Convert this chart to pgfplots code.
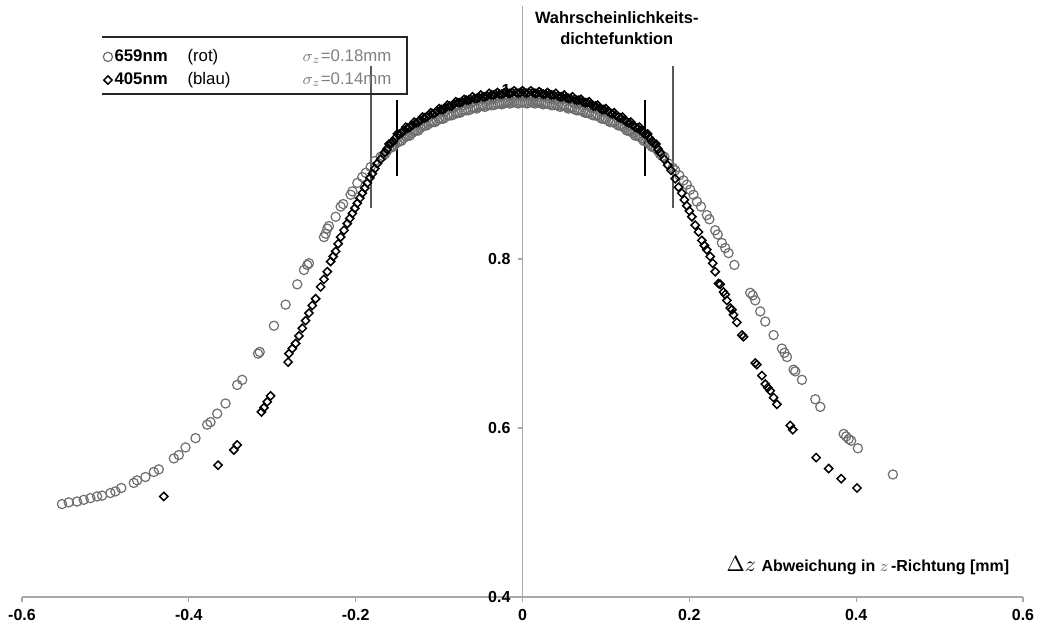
\documentclass[border=0pt]{standalone}
\usepackage{pgfplots}
\pgfplotsset{compat=1.18}
\usepackage{fontspec}
\setmainfont{Liberation Sans}
\definecolor{circgray}{HTML}{6E6E6E}
\definecolor{axgray}{HTML}{A8A8A8}
\begin{document}
\begin{tikzpicture}
\useasboundingbox (-11pt,-17pt) rectangle (510.5pt,298.5pt);
\begin{axis}[
  at={(0,0)}, anchor=south west,
  scale only axis, width=500.5pt, height=295.75pt,
  xmin=-0.6, xmax=0.6, ymin=0.4, ymax=1.1,
  axis x line*=bottom, axis y line*=middle,
  hide obscured x ticks=false, hide obscured y ticks=false,
  axis line style={draw=axgray, line width=0.6pt},
  xtick={-0.6,-0.4,-0.2,0,0.2,0.4,0.6},
  ytick={0.4,0.6,0.8,1},
  tick align=outside,
  major tick length=2.5pt,
  tick style={draw=axgray, line width=0.6pt},
  ticklabel style={font=\fontsize{8}{9.6}\selectfont\bfseries},
  /pgf/number format/assume math mode=true,
  clip=false,
  legend style={at={(axis cs:-0.503,1.051)}, anchor=north west, draw=none, fill=none,
    inner sep=0pt, font=\fontsize{8.4}{10}\selectfont, row sep=2pt,
    nodes={inner sep=1pt}},
  legend cell align=left,
  legend image code/.code={\draw[#1] plot coordinates {(0.09cm,0cm)};},
]
% 659nm (rot): circles
\addplot[only marks, mark=o, mark size=2.3pt, draw=circgray, line width=0.6pt] coordinates {
(-0.552,0.510) (-0.544,0.512) (-0.534,0.513) (-0.526,0.515) (-0.518,0.517) (-0.510,0.519)
(-0.504,0.520) (-0.494,0.523) (-0.488,0.525) (-0.481,0.529) (-0.466,0.535) (-0.462,0.538)
(-0.452,0.542) (-0.442,0.548) (-0.436,0.551) (-0.418,0.564) (-0.412,0.568) (-0.404,0.577)
(-0.392,0.588) (-0.378,0.604) (-0.374,0.607) (-0.366,0.617) (-0.356,0.629) (-0.342,0.651)
(-0.336,0.657) (-0.317,0.688) (-0.315,0.690) (-0.298,0.721) (-0.284,0.746) (-0.270,0.770)
(-0.262,0.787) (-0.258,0.793) (-0.256,0.795) (-0.238,0.826) (-0.236,0.830) (-0.234,0.836)
(-0.232,0.839) (-0.224,0.850) (-0.218,0.862) (-0.215,0.865) (-0.206,0.876) (-0.204,0.880)
(-0.198,0.890) (-0.192,0.897) (-0.188,0.902) (-0.182,0.909) (-0.177,0.916)
(-0.170,0.921) (-0.165,0.924) (-0.160,0.931) (-0.155,0.933) (-0.150,0.938) (-0.145,0.940)
(-0.140,0.945) (-0.135,0.946) (-0.130,0.951) (-0.125,0.952) (-0.120,0.957) (-0.115,0.958)
(-0.110,0.962) (-0.105,0.962) (-0.100,0.966) (-0.095,0.966) (-0.090,0.970) (-0.085,0.970)
(-0.080,0.973) (-0.075,0.973) (-0.070,0.976) (-0.065,0.976) (-0.060,0.979) (-0.055,0.978)
(-0.050,0.981) (-0.045,0.980) (-0.040,0.983) (-0.035,0.982) (-0.030,0.984) (-0.025,0.983)
(-0.020,0.985) (-0.015,0.984) (-0.010,0.986) (-0.005,0.984) (0.000,0.986) (0.005,0.984)
(0.010,0.986) (0.015,0.984) (0.020,0.985) (0.025,0.983) (0.030,0.984) (0.035,0.982)
(0.040,0.983) (0.045,0.980) (0.050,0.981) (0.055,0.978) (0.060,0.979) (0.065,0.976)
(0.070,0.976) (0.075,0.973) (0.080,0.973) (0.085,0.970) (0.090,0.970) (0.095,0.966)
(0.100,0.966) (0.105,0.962) (0.110,0.962) (0.115,0.958) (0.120,0.957) (0.125,0.952)
(0.130,0.951) (0.135,0.946) (0.140,0.945) (0.145,0.940) (0.150,0.938) (0.155,0.933)
(0.160,0.931) (0.165,0.924) (0.170,0.921)
(-0.1675,0.922) (-0.1625,0.928) (-0.1575,0.932) (-0.1525,0.936) (-0.1475,0.939) (-0.1425,0.943)
(-0.1375,0.946) (-0.1325,0.949) (-0.1275,0.952) (-0.1225,0.955) (-0.1175,0.958) (-0.1125,0.960)
(-0.1075,0.962) (-0.1025,0.964) (-0.0975,0.966) (-0.0925,0.968) (-0.0875,0.970) (-0.0825,0.971)
(-0.0775,0.973) (-0.0725,0.975) (-0.0675,0.976) (-0.0625,0.977) (-0.0575,0.979) (-0.0525,0.980)
(-0.0475,0.981) (-0.0425,0.982) (-0.0375,0.982) (-0.0325,0.983) (-0.0275,0.984) (-0.0225,0.984)
(-0.0175,0.985) (-0.0125,0.985) (-0.0075,0.985) (-0.0025,0.985)
(0.0025,0.985) (0.0075,0.985) (0.0125,0.985) (0.0175,0.985) (0.0225,0.984) (0.0275,0.984)
(0.0325,0.983) (0.0375,0.982) (0.0425,0.982) (0.0475,0.981) (0.0525,0.980) (0.0575,0.979)
(0.0625,0.977) (0.0675,0.976) (0.0725,0.975) (0.0775,0.973) (0.0825,0.971) (0.0875,0.970)
(0.0925,0.968) (0.0975,0.966) (0.1025,0.964) (0.1075,0.962) (0.1125,0.960) (0.1175,0.958)
(0.1225,0.955) (0.1275,0.952) (0.1325,0.949) (0.1375,0.946) (0.1425,0.943) (0.1475,0.939)
(0.1525,0.936) (0.1575,0.932) (0.1625,0.928) (0.1675,0.922)
(0.175,0.913) (0.180,0.908) (0.183,0.905) (0.188,0.899) (0.193,0.893) (0.197,0.888)
(0.201,0.882) (0.205,0.876) (0.209,0.868) (0.214,0.862) (0.221,0.852) (0.224,0.847)
(0.231,0.834) (0.234,0.829) (0.239,0.819) (0.243,0.813) (0.247,0.807) (0.254,0.793)
(0.273,0.760) (0.276,0.757) (0.279,0.751) (0.285,0.738) (0.291,0.726) (0.301,0.710)
(0.311,0.694) (0.314,0.689) (0.317,0.684) (0.325,0.669) (0.327,0.667) (0.335,0.657)
(0.351,0.634) (0.357,0.625) (0.385,0.593) (0.388,0.590) (0.391,0.587) (0.394,0.585)
(0.402,0.576) (0.444,0.545)
};
\addlegendentry{\makebox[36.5pt][l]{\textbf{659nm}}\makebox[57.5pt][l]{(rot)}\textcolor{gray}{$\sigma_z$=0.18mm}}
% 405nm (blau): diamonds
\addplot[only marks, mark=square, mark size=1.45pt, mark options={rotate=45}, draw=black, line width=0.75pt] coordinates {
(-0.430,0.519) (-0.365,0.556) (-0.346,0.574) (-0.342,0.580) (-0.313,0.619) (-0.310,0.624)
(-0.306,0.631) (-0.302,0.638) (-0.281,0.678) (-0.280,0.688) (-0.276,0.694) (-0.272,0.700)
(-0.268,0.709) (-0.264,0.718) (-0.260,0.727) (-0.256,0.736) (-0.252,0.745) (-0.248,0.753)
(-0.242,0.767) (-0.238,0.776) (-0.234,0.785) (-0.230,0.797) (-0.227,0.803) (-0.224,0.809)
(-0.221,0.818) (-0.218,0.826) (-0.214,0.834) (-0.210,0.842) (-0.207,0.848) (-0.204,0.854)
(-0.201,0.860) (-0.198,0.866) (-0.195,0.872) (-0.192,0.878) (-0.189,0.884) (-0.186,0.890)
(-0.183,0.896) (-0.180,0.901) (-0.177,0.907) (-0.174,0.913) (-0.170,0.918)
(-0.165,0.926) (-0.160,0.936) (-0.155,0.939) (-0.150,0.948) (-0.145,0.949) (-0.140,0.956)
(-0.135,0.956) (-0.130,0.962) (-0.125,0.962) (-0.120,0.968) (-0.115,0.968) (-0.110,0.973)
(-0.105,0.973) (-0.100,0.978) (-0.095,0.977) (-0.090,0.982) (-0.085,0.981) (-0.080,0.986)
(-0.075,0.985) (-0.070,0.989) (-0.065,0.988) (-0.060,0.992) (-0.055,0.990) (-0.050,0.994)
(-0.045,0.992) (-0.040,0.996) (-0.035,0.994) (-0.030,0.997) (-0.025,0.995) (-0.020,0.998)
(-0.015,0.996) (-0.010,0.999) (-0.005,0.996) (0.000,0.999) (0.005,0.996) (0.010,0.999)
(0.015,0.996) (0.020,0.998) (0.025,0.995) (0.030,0.997) (0.035,0.994) (0.040,0.996)
(0.045,0.992) (0.050,0.994) (0.055,0.990) (0.060,0.992) (0.065,0.988) (0.070,0.989)
(0.075,0.985) (0.080,0.986) (0.085,0.981) (0.090,0.982) (0.095,0.977) (0.100,0.978)
(0.105,0.973) (0.110,0.973) (0.115,0.968) (0.120,0.968) (0.125,0.962) (0.130,0.962)
(0.135,0.956) (0.140,0.956) (0.145,0.949) (0.150,0.948) (0.155,0.939) (0.160,0.936)
(0.165,0.926)
(-0.1625,0.930) (-0.1575,0.937) (-0.1525,0.943) (-0.1475,0.948) (-0.1425,0.952) (-0.1375,0.955)
(-0.1325,0.958) (-0.1275,0.961) (-0.1225,0.964) (-0.1175,0.967) (-0.1125,0.970) (-0.1075,0.972)
(-0.1025,0.975) (-0.0975,0.977) (-0.0925,0.979) (-0.0875,0.981) (-0.0825,0.983) (-0.0775,0.985)
(-0.0725,0.986) (-0.0675,0.988) (-0.0625,0.989) (-0.0575,0.990) (-0.0525,0.991) (-0.0475,0.992)
(-0.0425,0.993) (-0.0375,0.994) (-0.0325,0.995) (-0.0275,0.995) (-0.0225,0.996) (-0.0175,0.996)
(-0.0125,0.997) (-0.0075,0.997) (-0.0025,0.997)
(0.0025,0.997) (0.0075,0.997) (0.0125,0.997) (0.0175,0.996) (0.0225,0.996) (0.0275,0.995)
(0.0325,0.995) (0.0375,0.994) (0.0425,0.993) (0.0475,0.992) (0.0525,0.991) (0.0575,0.990)
(0.0625,0.989) (0.0675,0.988) (0.0725,0.986) (0.0775,0.985) (0.0825,0.983) (0.0875,0.981)
(0.0925,0.979) (0.0975,0.977) (0.1025,0.975) (0.1075,0.972) (0.1125,0.970) (0.1175,0.967)
(0.1225,0.964) (0.1275,0.961) (0.1325,0.958) (0.1375,0.955) (0.1425,0.952) (0.1475,0.948)
(0.1525,0.943) (0.1575,0.937) (0.1625,0.930)
(0.170,0.918) (0.174,0.911) (0.178,0.905) (0.183,0.895) (0.187,0.885) (0.191,0.878)
(0.194,0.870) (0.197,0.863) (0.200,0.857) (0.203,0.850) (0.207,0.840) (0.211,0.832)
(0.215,0.822) (0.218,0.816) (0.221,0.811) (0.225,0.803) (0.228,0.795) (0.231,0.785)
(0.235,0.771) (0.237,0.770) (0.241,0.761) (0.243,0.758) (0.245,0.751) (0.249,0.742)
(0.251,0.740) (0.253,0.734) (0.257,0.725) (0.263,0.710) (0.265,0.708) (0.279,0.677)
(0.281,0.675) (0.287,0.662) (0.291,0.652) (0.294,0.648) (0.297,0.644) (0.301,0.636)
(0.305,0.628) (0.321,0.603) (0.324,0.598) (0.352,0.565) (0.367,0.552) (0.382,0.540)
(0.401,0.529)
};
\addlegendentry{\makebox[36.5pt][l]{\textbf{405nm}}\makebox[57.5pt][l]{(blau)}\textcolor{gray}{$\sigma_z$=0.14mm}}
% sigma markers
\addplot[forget plot, draw=black!65, line width=1pt] coordinates {(-0.182,0.860) (-0.182,1.028)};
\addplot[forget plot, draw=black!65, line width=1pt] coordinates {(0.181,0.860) (0.181,1.028)};
\addplot[forget plot, draw=black, line width=1pt] coordinates {(-0.150,0.898) (-0.150,0.988)};
\addplot[forget plot, draw=black, line width=1pt] coordinates {(0.147,0.898) (0.147,0.988)};
% legend frame
\addplot[forget plot, draw=black!85, line width=1pt] coordinates {(-0.504,1.063) (-0.138,1.063) (-0.138,0.995) (-0.504,0.995)};
% texts
\node[align=center, font=\fontsize{8.2}{10.5}\selectfont\bfseries] at (axis cs:0.113,1.073) {Wahrscheinlichkeits-\\dichtefunktion};
\node[anchor=east, inner sep=0pt] at (axis cs:0.584,0.437) {{\fontsize{11}{12}\selectfont$\Delta z$}\ {\fontsize{8}{9.6}\selectfont\textbf{Abweichung in }\textcolor{black!60}{$z$}\,\textbf{-Richtung [mm]}}};
\end{axis}
\end{tikzpicture}
\end{document}
